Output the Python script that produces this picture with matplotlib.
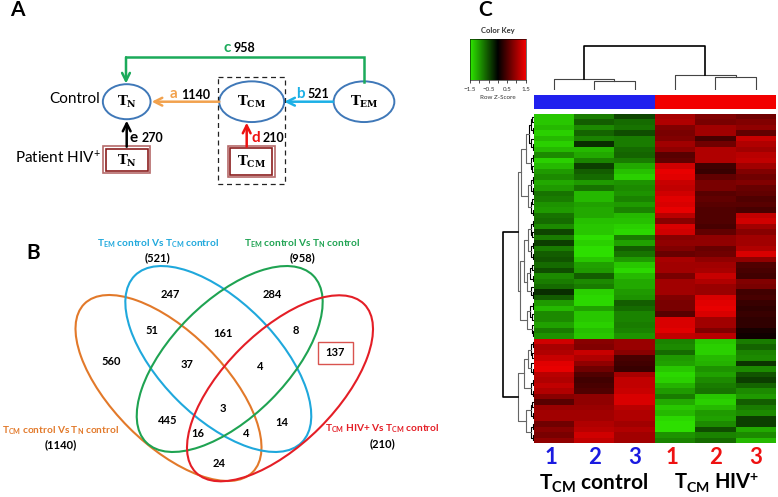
import matplotlib
matplotlib.use("Agg")
import matplotlib.pyplot as plt
import numpy as np
from matplotlib.colors import LinearSegmentedColormap, ListedColormap
from matplotlib.patches import Ellipse, Rectangle

plt.rcParams["font.family"] = ["Lato", "DejaVu Sans"]
plt.rcParams["mathtext.fontset"] = "custom"
plt.rcParams["mathtext.rm"] = "Lato"
plt.rcParams["mathtext.bf"] = "Lato:bold"
plt.rcParams["mathtext.it"] = "DejaVu Serif:bold"

# heatmap values (row z-score), one list per sample
con1 = [-1.3, -1.3, -1.2, -1.35, -1.2, -1.35, -1.2, -0.9, -1.35, -1.2, -1.0, -0.9, -1.1, -1.0, -0.75,
        -0.8, -0.95, -1.0, -0.75, -0.7, -0.9, -0.45, -0.8, -0.4, -0.8, -0.6, -0.55, -0.7, -0.5, -0.9,
        -0.8, -0.7, -0.3, -0.6, -1.0, -1.2, -0.9, -0.9, -1.05, -0.8, -0.95,
        1.3, 1.05, 1.1, 1.25, 1.4, 1.45, 1.15, 1.1, 1.2, 1.1, 0.85, 0.55, 0.95, 1.0, 1.0, 0.7, 0.85, 0.75, 0.9]
con2 = [-0.8, -0.6, -0.9, -0.65, -0.85, -0.3, -1.2, -1.1, -0.85, -0.4, -0.6, -0.7, -1.0, -0.75, -1.2,
        -1.2, -1.05, -1.1, -1.1, -1.25, -1.3, -1.3, -1.45, -1.35, -1.45, -1.45, -1.3, -1.05, -1.0, -0.6,
        -0.9, -0.8, -1.35, -1.4, -1.4, -1.05, -1.3, -1.3, -1.35, -1.25, -1.3,
        0.85, 0.8, 1.25, 1.1, 0.9, 0.7, 0.5, 0.4, 0.45, 0.5, 0.9, 0.9, 0.95, 1.0, 1.0, 1.1, 1.15, 1.3, 1.2]
con3 = [-0.45, -0.7, -0.75, -0.5, -0.8, -0.8, -0.7, -0.65, -0.8, -1.1, -1.25, -1.35, -0.95, -0.9, -0.95,
        -0.85, -1.0, -0.85, -1.2, -1.25, -1.35, -1.4, -0.8, -1.05, -0.6, -0.75, -1.0, -1.3, -1.4, -1.2,
        -1.1, -1.1, -1.0, -0.95, -0.6, -0.7, -0.85, -0.85, -0.8, -0.85, -0.95,
        0.95, 0.95, 0.85, 0.45, 0.4, 0.35, 1.05, 1.2, 1.2, 1.25, 1.35, 1.35, 1.15, 1.1, 1.1, 1.0, 1.1, 1.0, 1.0]
hiv1 = [1.05, 1.1, 0.8, 0.75, 0.8, 1.0, 0.9, 0.55, 0.6, 1.3, 1.45, 1.4, 1.25, 1.2, 1.3,
        1.4, 1.35, 1.45, 1.15, 0.85, 1.35, 1.3, 0.85, 0.9, 0.8, 0.65, 1.05, 1.0, 1.0, 0.75,
        1.0, 1.0, 1.0, 0.8, 0.75, 0.75, 0.55, 1.35, 1.35, 1.4, 1.2,
        -0.85, -0.9, -0.7, -1.0, -1.05, -1.3, -1.4, -1.35, -1.15, -1.0, -0.8, -1.1, -1.3, -1.2, -1.4, -1.45, -1.45, -0.95, -0.85]
hiv2 = [0.8, 0.75, 1.0, 1.0, 0.45, 0.7, 1.1, 1.1, 1.1, 0.4, 0.35, 0.6, 0.75, 0.75, 0.55,
        0.6, 0.55, 0.5, 0.5, 0.5, 0.45, 0.6, 0.9, 0.9, 0.65, 0.7, 0.9, 1.0, 1.05, 1.25,
        1.1, 0.95, 0.95, 1.35, 1.4, 1.45, 1.35, 1.0, 1.0, 0.8, 1.15,
        -1.3, -1.35, -1.35, -1.2, -1.15, -0.95, -1.05, -0.9, -0.8, -0.75, -1.3, -1.35, -1.2, -1.0, -1.05, -0.9, -0.5, -0.85, -0.7]
hiv3 = [0.7, 0.8, 0.9, 0.6, 1.25, 1.1, 1.0, 1.15, 1.2, 1.0, 0.8, 0.7, 0.8, 0.65, 0.6,
        0.5, 0.55, 0.45, 1.2, 1.3, 1.0, 0.85, 1.0, 1.0, 1.1, 1.35, 0.9, 0.5, 0.45, 0.4,
        0.8, 0.75, 0.4, 0.45, 0.35, 0.3, 0.35, 0.3, 0.3, 0.15, 0.1,
        -0.8, -0.65, -0.85, -0.9, -0.35, -0.9, -0.55, -0.4, -0.65, -0.9, -1.0, -0.6, -0.8, -0.9, -0.4, -0.4, -1.1, -0.9, -1.2]

# dendrogram merges: first, middle, end row of the two joined clusters, height
col_merges = [(1, 2, 3, 9), (0, 1, 3, 11), (4, 5, 6, 12.7), (3, 4, 6, 15), (0, 3, 6, 44)]
row_merges = [(0, 1, 2, 1.5), (2, 3, 4, 1), (0, 2, 4, 3), (5, 6, 7, 1), (4, 5, 7, 2.5), (0, 4, 7, 4.5),
              (7, 8, 9, 1), (9, 10, 11, 1.5), (7, 9, 11, 3), (0, 7, 11, 8),
              (11, 12, 13, 1), (13, 14, 15, 1), (11, 13, 15, 2.5),
              (15, 16, 17, 1.5), (17, 18, 19, 1), (15, 17, 19, 3), (11, 15, 19, 6), (0, 11, 19, 13),
              (19, 20, 21, 1), (21, 22, 23, 1.5), (19, 21, 23, 3),
              (23, 24, 25, 1), (25, 26, 27, 1), (23, 25, 27, 3), (19, 23, 27, 6),
              (27, 28, 29, 1.5), (29, 30, 31, 1), (27, 29, 31, 3.5),
              (32, 33, 34, 1), (31, 32, 34, 2.5), (27, 31, 34, 7), (19, 27, 34, 10),
              (34, 35, 36, 1), (36, 37, 38, 1.5), (34, 36, 38, 3.5),
              (39, 40, 41, 1), (38, 39, 41, 2), (34, 38, 41, 7), (19, 34, 41, 13.5), (0, 19, 41, 15.5),
              (41, 42, 43, 1), (43, 44, 45, 1.5), (41, 43, 45, 3), (46, 47, 48, 1), (45, 46, 48, 2.5),
              (41, 45, 48, 6), (48, 49, 50, 1), (50, 51, 52, 1), (48, 50, 52, 3), (41, 48, 52, 10),
              (52, 53, 54, 1.5), (54, 55, 56, 1), (52, 54, 56, 3),
              (56, 57, 58, 1), (58, 59, 60, 1), (56, 58, 60, 3), (52, 56, 60, 8),
              (41, 52, 60, 15.5), (0, 41, 60, 31)]

sample_numbers = ["1", "2", "3", "1", "2", "3"]
key_ticks = [-1.5, -1, -0.5, 0, 0.5, 1, 1.5]
key_labels = ["\u22121.5", "", "\u22120.5", "", "0.5", "", "1.5"]

venn_counts = ["247", "284", "51", "161", "8", "560", "37", "4", "137", "3", "445", "14", "16", "4", "24"]
venn_x = [512, 817, 457, 668, 887, 334, 562, 781, 1005, 668, 503, 846, 594, 738, 657]
venn_y = [238, 238, 345, 355, 345, 440, 450, 453, 413, 581, 618, 622, 656, 655, 745]

W, H = 778, 497
fig = plt.figure(figsize=(W / 100, H / 100), dpi=100)


def px_axes(x0, y0, x1, y1):
    return fig.add_axes([x0 / W, 1 - y1 / H, (x1 - x0) / W, (y1 - y0) / H])


ax = px_axes(0, 0, W, H)
ax.set_xlim(0, W)
ax.set_ylim(H, 0)
ax.axis("off")

ax.text(17, 10, "A", fontsize=15, fontweight="bold", ha="center", va="center")
ax.text(33, 253, "B", fontsize=15, fontweight="bold", ha="center", va="center")
ax.text(485, 10, "C", fontsize=15, fontweight="bold", ha="center", va="center")

# panel A
node_blue = "#3F78B8"
ax.add_patch(Ellipse((126.7, 101.7), 47.7, 35, fill=False, ec=node_blue, lw=1.4))
ax.add_patch(Ellipse((251.7, 101.7), 65, 40.7, fill=False, ec=node_blue, lw=1.4))
ax.add_patch(Ellipse((364, 101.7), 60.7, 40.7, fill=False, ec=node_blue, lw=1.4))
ax.add_patch(Rectangle((218.3, 76.7), 66.7, 107.3, fill=False, ec="#222222", lw=0.9, ls=(0, (4, 3))))
for x0, y0, w, h in [(103.3, 146, 46.7, 27.3), (228, 145.7, 46.7, 31.6)]:
    ax.add_patch(Rectangle((x0, y0), w, h, fill=False, ec="#B56A6A", lw=1.2))
    ax.add_patch(Rectangle((x0 + 2.4, y0 + 2.7), w - 4.8, h - 5.4, fill=False, ec="#8B1E1E", lw=1.2))


def arrow(x0, y0, x1, y1, color):
    ax.annotate("", xy=(x1, y1), xytext=(x0, y0),
                arrowprops=dict(arrowstyle="->", color=color, lw=1.8, mutation_scale=14, shrinkA=0, shrinkB=0))


ax.plot([364, 364, 126], [81.7, 57.3, 57.3], color="#1BAA5A", lw=1.8, solid_joinstyle="miter")
arrow(126, 57.3, 126, 83.5, "#1BAA5A")
arrow(219.3, 101.7, 151.7, 101.7, "#F2A24E")
arrow(333, 101.7, 284.3, 101.7, "#1CB0E6")
arrow(126.7, 146.7, 126.7, 120.7, "black")
arrow(246.7, 146.7, 246.7, 122.7, "#EE1111")

for x, y, s in [(126.7, 102, "T_{N}"), (251.7, 102, "T_{CM}"), (364, 102, "T_{EM}"),
                (126.7, 161, "T_{N}"), (251.7, 162, "T_{CM}")]:
    ax.text(x, y, "$\\mathit{" + s + "}$", fontsize=9.5, ha="center", va="center")

ax.text(100, 99, "Control", fontsize=11, ha="right", va="center")
ax.text(15, 158, "Patient HIV$^{+}$", fontsize=11, ha="left", va="center")
for x, y, s, c in [(227, 48, "c", "#1BAA5A"), (174, 94.5, "a", "#F2A24E"), (300, 94, "b", "#1CB0E6"),
                   (134, 137.5, "e", "black"), (256, 137.5, "d", "#EE1111")]:
    ax.text(x, y, s, color=c, fontsize=11, fontweight="bold", ha="center", va="center")
for x, y, s in [(244.5, 48, "958"), (195.5, 95, "1140"), (318, 94, "521"), (152, 137.5, "270"), (273.5, 138, "210")]:
    ax.text(x, y, s, fontsize=9, fontweight="bold", ha="center", va="center")

# panel B
ax.add_patch(Ellipse((168.5, 388), 238, 112, angle=45, fill=False, ec="#E2792A", lw=1.5))
ax.add_patch(Ellipse((218.3, 359), 236, 116, angle=45, fill=False, ec="#1FA8DC", lw=1.5))
ax.add_patch(Ellipse((229.7, 359), 236, 116, angle=-45, fill=False, ec="#1FA352", lw=1.5))
ax.add_patch(Ellipse((280, 388.3), 238, 112, angle=-45, fill=False, ec="#E41E26", lw=1.5))
ax.add_patch(Rectangle((317.7, 342.3), 35.6, 21.3, fill=False, ec="#D9534F", lw=1))

for s, x, y in zip(venn_counts, venn_x, venn_y):
    ax.text(x / 3, 215 + y / 3, s, fontsize=8, fontweight="bold", ha="center", va="center")

ax.text(157.7, 243.5, "$\\mathbf{T_{EM}}$ control Vs $\\mathbf{T_{CM}}$ control", color="#1FA8DC",
        fontsize=7.3, fontweight="bold", ha="center", va="center")
ax.text(302.3, 243.5, "$\\mathbf{T_{EM}}$ control Vs $\\mathbf{T_{N}}$ control", color="#1FA352",
        fontsize=7.3, fontweight="bold", ha="center", va="center")
ax.text(60, 431, "$\\mathbf{T_{CM}}$ control Vs $\\mathbf{T_{N}}$ control", color="#E2792A",
        fontsize=7.3, fontweight="bold", ha="center", va="center")
ax.text(381.7, 429, "$\\mathbf{T_{CM}}$ HIV+ Vs $\\mathbf{T_{CM}}$ control", color="#E41E26",
        fontsize=7.3, fontweight="bold", ha="center", va="center")
for x, y, s in [(157.7, 257.3, "(521)"), (302.3, 257.3, "(958)"), (61, 445, "(1140)"), (382.7, 443.3, "(210)")]:
    ax.text(x, y, s, fontsize=8, fontweight="bold", ha="center", va="center")

# panel C
cmap = LinearSegmentedColormap.from_list("gbr", ["#2EE600", "#000000", "#F00000"])
matrix = np.array([con1, con2, con3, hiv1, hiv2, hiv3]).T

hm = px_axes(533.5, 114, 776, 443)
hm.pcolormesh(matrix, cmap=cmap, vmin=-1.5, vmax=1.5)
hm.set_ylim(60, 0)
hm.axis("off")

side = px_axes(533.5, 94.7, 776, 109)
side.pcolormesh([[0, 0, 0, 1, 1, 1]], cmap=ListedColormap(["#2020EE", "#F20000"]))
side.axis("off")

key = px_axes(470, 39, 525.7, 80)
key.imshow(np.linspace(-1.5, 1.5, 200).reshape(1, -1), cmap=cmap, aspect="auto", extent=[-1.5, 1.5, 0, 1])
key.set_yticks([])
key.set_xticks(key_ticks, key_labels, fontsize=4.5, color="#333333")
key.tick_params(axis="x", length=2, width=0.5, pad=3)
for sp in key.spines.values():
    sp.set_linewidth(0.4)
key.set_xlabel("Row Z-Score", fontsize=4.5, color="#333333", labelpad=2)
ax.text(497.7, 31, "Color Key", fontsize=5.5, fontweight="bold", color="#333333", ha="center", va="center")


def tree_lines(merges):
    pos, hgt, lines = {}, {}, []
    for s, m, e, h in merges:
        p1, h1 = pos.get((s, m), s + 0.5), hgt.get((s, m), 0)
        p2, h2 = pos.get((m, e), m + 0.5), hgt.get((m, e), 0)
        lines.append(([p1, p1, p2, p2], [h1, h, h, h2], h))
        pos[(s, e)] = (p1 + p2) / 2
        hgt[(s, e)] = h
    return lines


top = px_axes(533.5, 40, 776, 90)
top.set_xlim(0, 6)
top.set_ylim(0, 50)
top.axis("off")
for p, h, m in tree_lines(col_merges):
    top.plot(p, h, color="black" if m > 40 else "#444444", lw=1.2 if m > 40 else 0.8)

left = px_axes(500, 114, 533.5, 443)
left.set_xlim(33.5, 0)
left.set_ylim(60, 0)
left.axis("off")
for p, h, m in tree_lines(row_merges):
    left.plot(h, p, color="black" if m > 30 or m < 5 else "#666666", lw=1.2 if m > 30 else 0.8)

number_x = [551, 594.3, 634.7, 671.7, 715.3, 755.7]
for x, s, c in zip(number_x, sample_numbers, ["#1A1AE0"] * 3 + ["#EE1111"] * 3):
    ax.text(x, 458, s, color=c, fontsize=16, fontweight="bold", ha="center", va="center")
ax.text(594, 483, "$\\mathbf{T_{CM}}$ control", fontsize=15, fontweight="bold", ha="center", va="center")
ax.text(716.5, 483, "$\\mathbf{T_{CM}}$ HIV$\\mathbf{^{+}}$", fontsize=14.5, fontweight="bold", ha="center", va="center")

fig.savefig("out.png", dpi=100)
